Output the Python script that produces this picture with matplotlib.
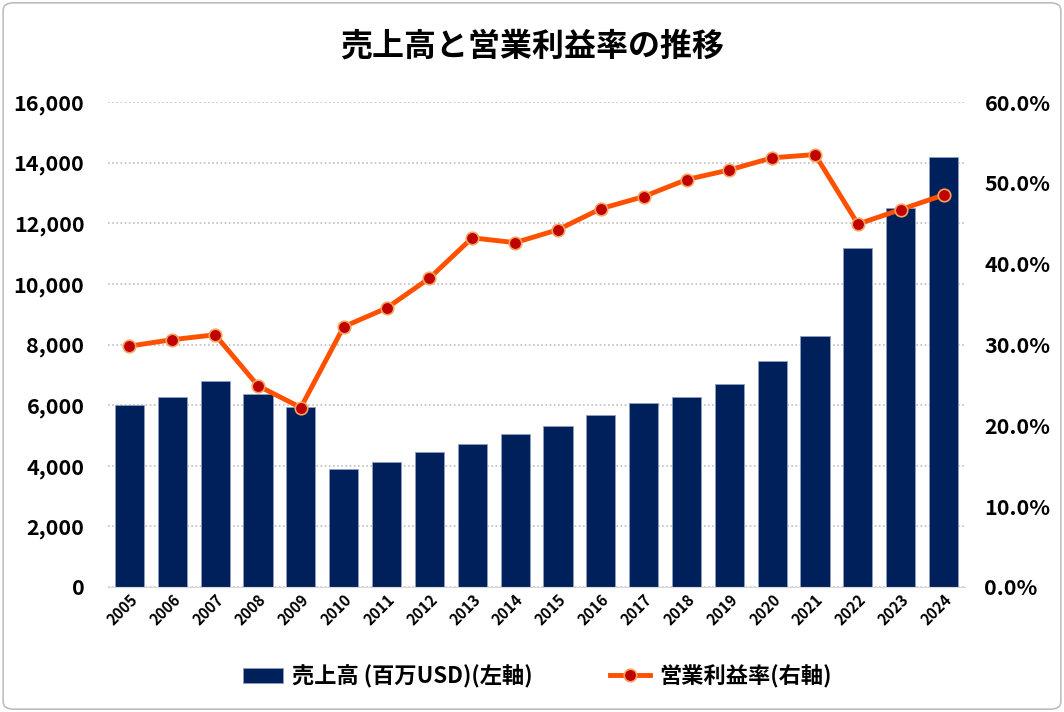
import numpy as np
import matplotlib.pyplot as plt
from matplotlib.patches import FancyBboxPatch
from matplotlib.ticker import FuncFormatter, MultipleLocator

plt.rcParams['font.family'] = ['Noto Sans CJK JP', 'DejaVu Sans']

# data
years = [str(y) for y in range(2005, 2025)]
sales = [6000, 6270, 6780, 6370, 5940, 3890, 4120, 4450, 4720, 5050,
         5310, 5680, 6070, 6270, 6700, 7460, 8280, 11190, 12500, 14190]
margin = [29.8, 30.6, 31.2, 24.9, 22.2, 32.2, 34.5, 38.2, 43.2, 42.6,
          44.2, 46.8, 48.3, 50.4, 51.6, 53.1, 53.5, 44.9, 46.7, 48.5]

bar_color = '#00205B'
line_color = '#FF5000'
marker_color = '#C00000'

fig = plt.figure(figsize=(10.64, 7.12), dpi=100)
ax = fig.add_axes([0.1015, 0.1756, 0.8055, 0.6811])
ax2 = ax.twinx()

x = np.arange(len(years))
bars = ax.bar(x, sales, width=0.68, color=bar_color, edgecolor='#8FA0BF',
              linewidth=0.6, label='売上高 (百万USD)(左軸)', zorder=2)
line, = ax2.plot(x, margin, color=line_color, linewidth=3.5,
                 marker='o', markersize=9, markerfacecolor=marker_color,
                 markeredgecolor='#F4A460', markeredgewidth=1.2,
                 label='営業利益率(右軸)', zorder=3)

ax.set_xlim(-0.5, len(years) - 0.5)
ax.set_ylim(0, 16000)
ax2.set_ylim(0, 60)
ax.yaxis.set_major_locator(MultipleLocator(2000))
ax2.yaxis.set_major_locator(MultipleLocator(10))
ax.yaxis.set_major_formatter(FuncFormatter(lambda v, p: f'{int(v):,}'))
ax2.yaxis.set_major_formatter(FuncFormatter(lambda v, p: f'{v:.1f}%'))

ax.grid(axis='y', color='#BFBFBF', linestyle=(0, (1, 1.5)), linewidth=1.2, zorder=0)
ax.set_axisbelow(True)

for a in (ax, ax2):
    for s in a.spines.values():
        s.set_visible(False)
    a.tick_params(length=0)
ax.spines['bottom'].set_visible(True)
ax.spines['bottom'].set_color('#D9D9D9')

ax.set_xticks(x)
ax.set_xticklabels(years, rotation=45, fontsize=11, fontweight='bold')
ax.tick_params(axis='x', pad=3)
for lbl in ax.get_xticklabels():
    lbl.set_ha('right')
    lbl.set_rotation_mode('anchor')
for lbl in ax.get_yticklabels() + ax2.get_yticklabels():
    lbl.set_fontsize(15.5)
    lbl.set_fontweight('bold')
ax.tick_params(axis='y', pad=17)
ax2.tick_params(axis='y', pad=14)

fig.text(0.5, 0.935, '売上高と営業利益率の推移', ha='center', va='center',
         fontsize=23, fontweight='bold')

fig.legend([bars, line], ['売上高 (百万USD)(左軸)', '営業利益率(右軸)'],
           loc='center', bbox_to_anchor=(0.505, 0.05), ncol=2, frameon=False,
           prop={'size': 16, 'weight': 'bold'}, columnspacing=3.5,
           handlelength=1.8, handletextpad=0.4)

border = FancyBboxPatch((0.003, 0.004), 0.994, 0.992, boxstyle='round,pad=0,rounding_size=0.01',
                        transform=fig.transFigure, facecolor='none',
                        edgecolor='#BFBFBF', linewidth=1.2)
fig.patches.append(border)

fig.savefig('out.png', dpi=100)
